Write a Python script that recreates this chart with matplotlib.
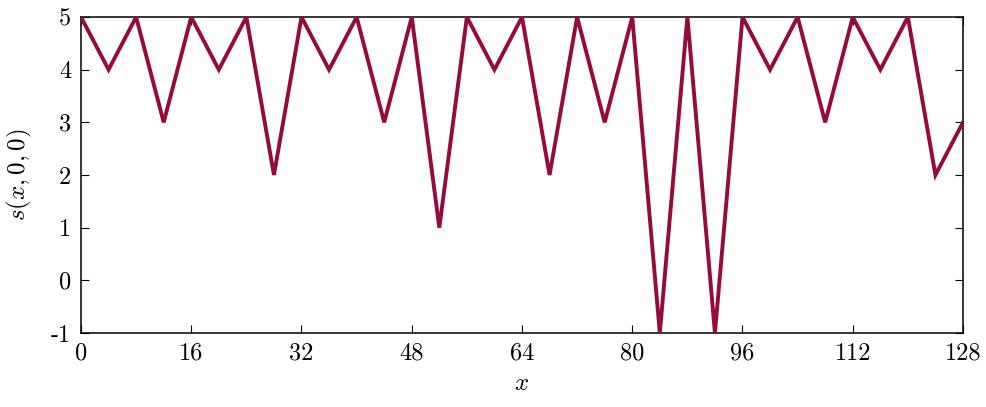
import matplotlib
matplotlib.use("Agg")
import matplotlib.pyplot as plt
import numpy as np

plt.rcParams['font.family'] = 'serif'
plt.rcParams['font.serif'] = ['cmr10', 'DejaVu Serif']
plt.rcParams['mathtext.fontset'] = 'cm'
plt.rcParams['axes.unicode_minus'] = False

# Data
x = [0, 4, 8, 12, 16, 20, 24, 28, 32, 36, 40, 44, 48, 52, 56, 60, 64,
     68, 72, 76, 80, 84, 88, 92, 96, 100, 104, 108, 112, 116, 120, 124, 128]
s = [5, 4, 5, 3, 5, 4, 5, 2, 5, 4, 5, 3, 5, 1, 5, 4, 5,
     2, 5, 3, 5, -1, 5, -1, 5, 4, 5, 3, 5, 4, 5, 2, 3]
xticks = [0, 16, 32, 48, 64, 80, 96, 112, 128]
yticks = [-1, 0, 1, 2, 3, 4, 5]

fig = plt.figure(figsize=(9.87, 4.07), dpi=100)
ax = fig.add_axes([81/987, 1 - 333/407, (963 - 81)/987, (333 - 17)/407])

ax.plot(x, s, color='#960a3e', lw=2.8, solid_joinstyle='miter', zorder=3)

ax.set_xlim(0, 128)
ax.set_ylim(-1, 5)
ax.set_xticks(xticks)
ax.set_xticklabels([str(t) for t in xticks])
ax.set_yticks(yticks)
ax.set_yticklabels([str(t) for t in yticks])
ax.tick_params(direction='in', top=True, right=True, length=6, width=0.8,
               labelsize=17.5, pad=7)
for sp in ax.spines.values():
    sp.set_linewidth(1.1)

ax.set_xlabel(r'$x$', fontsize=18, labelpad=6)
ax.set_ylabel(r'$s(x,0,0)$', fontsize=18, labelpad=12)

fig.savefig('out.png', dpi=100)
